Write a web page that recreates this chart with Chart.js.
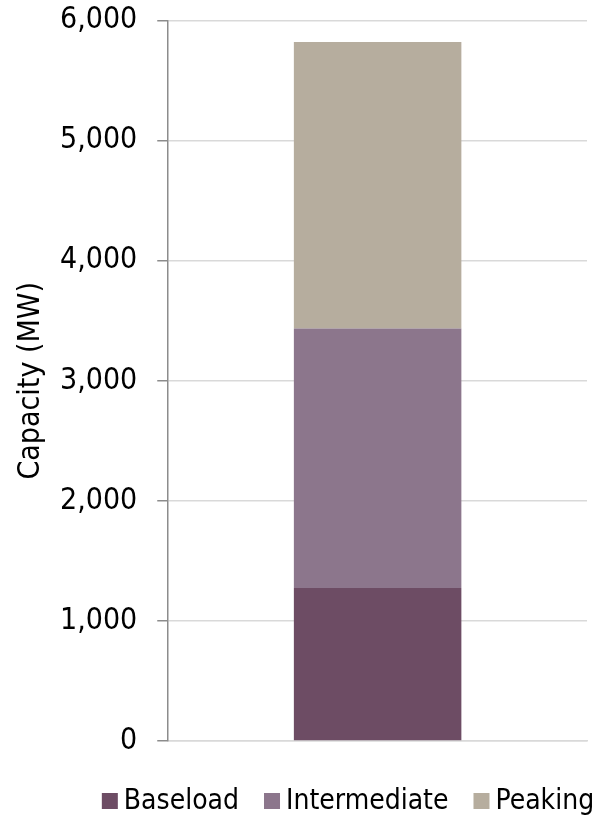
<!DOCTYPE html>
<html>
<head>
<meta charset="utf-8">
<script src="https://cdn.jsdelivr.net/npm/chart.js@4/dist/chart.umd.min.js"></script>
<style>
  html, body { margin: 0; padding: 0; background: #fff; }
  #wrap { width: 597px; height: 818px; position: relative; }
</style>
</head>
<body>
<div id="wrap"><canvas id="c" width="597" height="818"></canvas></div>
<script>
const categories = [''];
const seriesNames = ['Baseload', 'Intermediate', 'Peaking'];
const baseload = [1275];
const intermediate = [2160];
const peaking = [2385];
const seriesColors = ['#6d4c64', '#8c768c', '#b6ad9e'];
const yTicks = [0, 1000, 2000, 3000, 4000, 5000, 6000];
const yTitle = 'Capacity (MW)';

const FONT = '"DejaVu Sans Condensed", "DejaVu Sans", sans-serif';

// Custom legend matching the reference spacing (box, small gap, label)
const legendPlugin = {
  id: 'customLegend',
  afterDraw(chart) {
    const ctx = chart.ctx;
    const ds = chart.data.datasets;
    const box = 16, gapText = 6, gapItem = 25, fontSize = 28;
    ctx.save();
    ctx.font = fontSize + 'px ' + FONT;
    const widths = ds.map(d => ctx.measureText(d.label).width);
    const total = widths.reduce((a, w) => a + box + gapText + w, 0) + gapItem * (ds.length - 1);
    let x = 348 - total / 2;
    const yc = 801;
    ctx.textBaseline = 'middle';
    ctx.textAlign = 'left';
    ds.forEach((d, i) => {
      ctx.fillStyle = d.backgroundColor;
      ctx.fillRect(x, yc - box / 2, box, box);
      x += box + gapText;
      ctx.fillStyle = '#000';
      ctx.fillText(d.label, x, yc + 1);
      x += widths[i] + gapItem;
    });
    ctx.restore();
  }
};

new Chart(document.getElementById('c'), {
  type: 'bar',
  data: {
    labels: categories,
    datasets: [baseload, intermediate, peaking].map((d, i) => ({
      label: seriesNames[i],
      data: d,
      backgroundColor: seriesColors[i],
      borderWidth: 0,
      barPercentage: 0.4,
      categoryPercentage: 1.0
    }))
  },
  plugins: [legendPlugin],
  options: {
    responsive: false,
    animation: false,
    layout: { padding: { left: 4, right: 10, top: 20.5, bottom: 69 } },
    plugins: {
      tooltip: { enabled: false },
      legend: { display: false }
    },
    scales: {
      x: {
        stacked: true,
        grid: { display: false },
        border: { color: '#d9d9d9', width: 1.5 },
        ticks: { display: false }
      },
      y: {
        stacked: true,
        min: 0,
        max: 6000,
        afterBuildTicks: (axis) => { axis.ticks = yTicks.map(v => ({ value: v })); },
        afterFit: (axis) => { axis.width -= 9; axis.paddingTop = 0; },
        ticks: {
          font: { family: FONT, size: 30 },
          color: '#000',
          padding: 20,
          callback: (v) => v.toLocaleString('en-US')
        },
        grid: { color: '#d9d9d9', lineWidth: 1.5, tickColor: '#8c8c8c', tickLength: 11 },
        border: { color: '#8c8c8c', width: 1.5 },
        title: {
          display: true,
          text: yTitle,
          font: { family: FONT, size: 30 },
          color: '#000',
          padding: { top: 9, bottom: 0 }
        }
      }
    }
  }
});
</script>
</body>
</html>
